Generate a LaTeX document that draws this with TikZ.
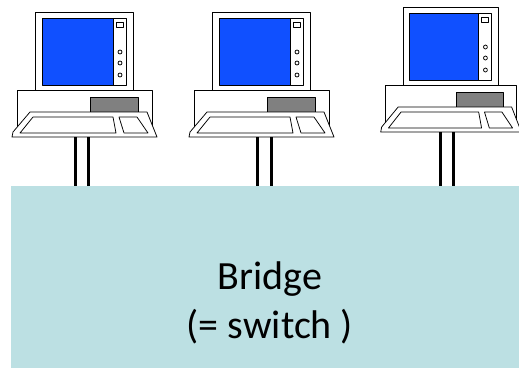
\documentclass[tikz,border=0pt]{standalone}
\usepackage{fontspec}
\setmainfont{Carlito}
\usepackage{tikz}
\definecolor{screenblue}{RGB}{16,80,255}
\definecolor{drivegray}{RGB}{128,128,128}
\definecolor{bridgeteal}{RGB}{188,224,227}
\tikzset{
  outline/.style={draw=black, line width=0.75pt, fill=white, line join=round},
  cable/.style={draw=black, line width=3pt},
}
% one computer, origin at the top left corner of the monitor
\def\computer[#1](#2,#3){
  \begin{scope}[shift={(#2,#3)}, #1]
    \draw[outline] (-18,78) rectangle (117,116);
    \draw[outline, fill=drivegray] (55,85) rectangle (103,100);
    \draw[outline] (-5,100) -- (-22,120) -- (-23,125) -- (122,125) -- (120,120) -- (112,100) -- cycle;
    \draw[outline] (-2,105) -- (78,105) -- (81,121) -- (-15,121) -- cycle;
    \draw[outline] (84,105) -- (102,105) -- (113,121) -- (89,121) -- cycle;
    \draw[outline] (0,0) rectangle (98,78);
    \draw[outline, fill=screenblue] (7,6) rectangle (78,73);
    \draw[outline] (78,6) rectangle (91,73);
    \draw[outline] (81,10) rectangle (88,15);
    \draw[outline] (85,40) circle (2pt);
    \draw[outline] (85,51) circle (2pt);
    \draw[outline] (85,63) circle (2pt);
  \end{scope}
}

\begin{document}
\begin{tikzpicture}[x=1pt, y=-1pt]
  \useasboundingbox (0,0) rectangle (519,368);

  \node[fill=bridgeteal, inner sep=0pt, minimum width=508pt, minimum height=182pt, anchor=north west] (bridge) at (11,186) {};
  \node[align=center, inner sep=0pt, font=\fontsize{40}{49}\selectfont] (bridgetext) at (270,303) {Bridge\\(= switch )};

  \computer[](35,12)
  \computer[](212,12)
  \computer[xscale=0.97](403,7)

  \coordinate (pc1a) at (75.5,137);
  \coordinate (pc1b) at (88.5,137);
  \coordinate (pc2a) at (257.5,137);
  \coordinate (pc2b) at (271,137);
  \coordinate (pc3a) at (440.5,132);
  \coordinate (pc3b) at (453.5,132);

  \draw[cable] (pc1a) -- (pc1a |- bridge.north);
  \draw[cable] (pc1b) -- (pc1b |- bridge.north);
  \draw[cable] (pc2a) -- (pc2a |- bridge.north);
  \draw[cable] (pc2b) -- (pc2b |- bridge.north);
  \draw[cable] (pc3a) -- (pc3a |- bridge.north);
  \draw[cable] (pc3b) -- (pc3b |- bridge.north);
\end{tikzpicture}
\end{document}
